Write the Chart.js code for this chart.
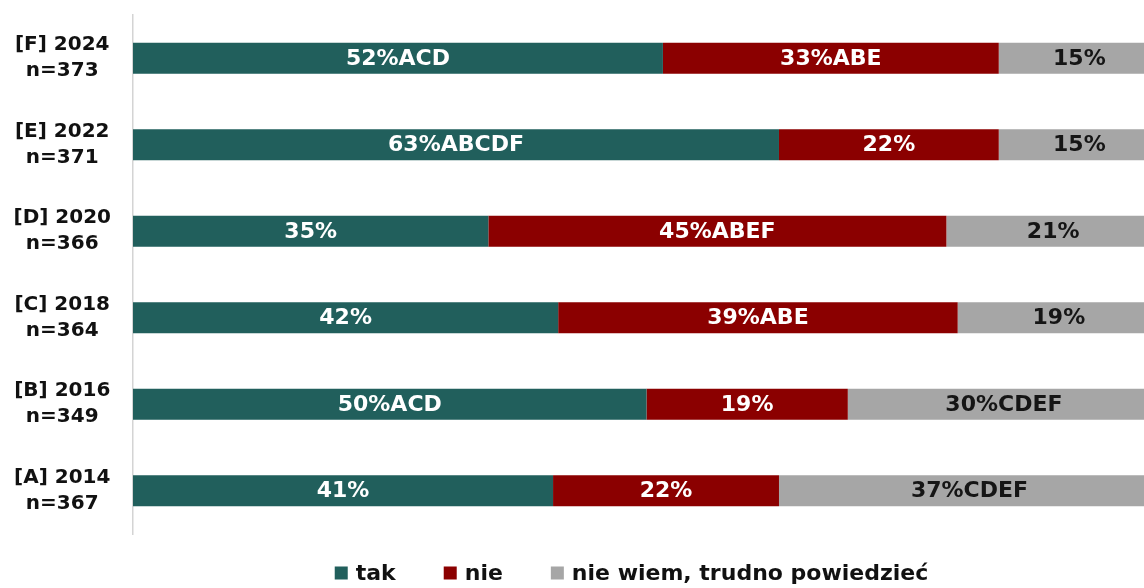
<!DOCTYPE html>
<html>
<head>
<meta charset="utf-8">
<script src="https://cdn.jsdelivr.net/npm/chart.js@4/dist/chart.umd.min.js"></script>
<style>
  html, body { margin: 0; padding: 0; background: #fff; overflow: hidden; }
  #wrap { width: 1263px; height: 588px; }
</style>
</head>
<body>
<div id="wrap"><canvas id="survey_chart"></canvas></div>
<script>
const categories = [
  ["[F] 2024", "n=373"],
  ["[E] 2022", "n=371"],
  ["[D] 2020", "n=366"],
  ["[C] 2018", "n=364"],
  ["[B] 2016", "n=349"],
  ["[A] 2014", "n=367"],
];

const tak_values = [51.6, 62.9, 34.6, 41.4, 50.0, 40.9];
const nie_values = [32.7, 21.4, 44.6, 38.9, 19.6, 22.0];
const nw_values = [15.7, 15.7, 20.8, 19.7, 30.4, 37.1];

const tak_labels = ["52%ACD", "63%ABCDF", "35%", "42%", "50%ACD", "41%"];
const nie_labels = ["33%ABE", "22%", "45%ABEF", "39%ABE", "19%", "22%"];
const nw_labels = ["15%", "15%", "21%", "19%", "30%CDEF", "37%CDEF"];

const FONT = "'DejaVu Sans', sans-serif";

// draw the value text in the middle of each bar segment
const bar_labels = {
  id: "bar_labels",
  afterDatasetsDraw(chart) {
    const ctx = chart.ctx;
    ctx.save();
    ctx.font = "bold 22px " + FONT;
    ctx.textAlign = "center";
    ctx.textBaseline = "middle";
    chart.data.datasets.forEach((ds, i) => {
      const meta = chart.getDatasetMeta(i);
      meta.data.forEach((bar, j) => {
        const p = bar.getCenterPoint();
        ctx.fillStyle = ds.textColor;
        ctx.fillText(ds.valueLabels[j], p.x, p.y + 1);
      });
    });
    ctx.restore();
  },
};

// simple legend row under the plot (built-in one ties item gap to its height)
const bottom_legend = {
  id: "bottom_legend",
  afterDraw(chart) {
    const ctx = chart.ctx;
    const box = 13, gap = 8, spacing = 48;
    ctx.save();
    ctx.font = "bold 22px " + FONT;
    ctx.textBaseline = "middle";
    ctx.textAlign = "left";
    const items = chart.data.datasets.map((ds) => ({
      text: ds.label,
      color: ds.backgroundColor,
      w: box + gap + ctx.measureText(ds.label).width,
    }));
    let total = items.reduce((s, it) => s + it.w, 0) + spacing * (items.length - 1);
    let x = chart.width / 2 - total / 2;
    const y = chart.chartArea.bottom + 39;
    items.forEach((it) => {
      ctx.fillStyle = it.color;
      ctx.fillRect(x, y - box / 2, box, box);
      ctx.fillStyle = "#111";
      ctx.fillText(it.text, x + box + gap, y + 1);
      x += it.w + spacing;
    });
    ctx.restore();
  },
};

const survey_ctx = document.getElementById("survey_chart");

const survey_chart = new Chart(survey_ctx, {
  type: "bar",
  data: {
    labels: categories,
    datasets: [
      {
        label: "tak",
        data: tak_values,
        valueLabels: tak_labels,
        backgroundColor: "#215F5C",
        textColor: "#ffffff",
      },
      {
        label: "nie",
        data: nie_values,
        valueLabels: nie_labels,
        backgroundColor: "#8B0000",
        textColor: "#ffffff",
      },
      {
        label: "nie wiem, trudno powiedzieć",
        data: nw_values,
        valueLabels: nw_labels,
        backgroundColor: "#A6A6A6",
        textColor: "#151515",
      },
    ],
  },
  plugins: [bar_labels, bottom_legend],
  options: {
    indexAxis: "y",
    responsive: true,
    maintainAspectRatio: false,
    animation: false,
    categoryPercentage: 1,
    barPercentage: 0.36,
    layout: {
      padding: { top: 15, right: 103, left: 0, bottom: 54 },
    },
    plugins: {
      tooltip: { enabled: false },
      legend: { display: false },
    },
    scales: {
      x: {
        stacked: true,
        display: false,
        min: 0,
        max: 100,
      },
      y: {
        stacked: true,
        afterFit: (s) => {
          s.width = 133;
          s.paddingTop = 0;
          s.paddingBottom = 0;
        },
        grid: { display: false, drawTicks: false },
        border: { display: true, color: "#d4d4d4", width: 1.5 },
        ticks: {
          crossAlign: "center",
          padding: 22,
          color: "#111",
          font: { family: FONT, size: 20, weight: "bold", lineHeight: 1.3 },
        },
      },
    },
  },
});
</script>
</body>
</html>
